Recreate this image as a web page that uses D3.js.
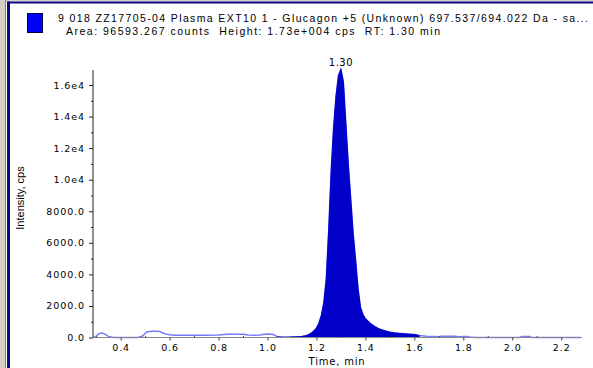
<!DOCTYPE html>
<html>
<head>
  <style>
    body { margin: 0; background: #fff; }
    svg { display: block; font-family: "DejaVu Sans", sans-serif; }
    .tick text { font-family: "DejaVu Sans", sans-serif; font-size: 9.5px; letter-spacing: 0.9px; fill: #000; }
  </style>
</head>
<body>
  <script src="https://d3js.org/d3.v7.min.js"></script>
  <script>
    // header text
    const titleLine = "9 018 ZZ17705-04 Plasma EXT10 1 - Glucagon +5 (Unknown) 697.537/694.022 Da - sa...";
    const infoLine = "Area: 96593.267 counts  Height: 1.73e+004 cps  RT: 1.30 min";
    const peakLabel = "1.30";
    const peakRT = 1.30;

    // axis ticks
    const xTicks = [0.4, 0.6, 0.8, 1.0, 1.2, 1.4, 1.6, 1.8, 2.0, 2.2];
    const xMinor = [0.3, 0.5, 0.7, 0.9, 1.1, 1.3, 1.5, 1.7, 1.9, 2.1];
    const yTicks = [0, 2000, 4000, 6000, 8000, 10000, 12000, 14000, 16000];
    const yTickLabels = ["0.0", "2000.0", "4000.0", "6000.0", "8000.0", "1.0e4", "1.2e4", "1.4e4", "1.6e4"];
    const yMinor = [1000, 3000, 5000, 7000, 9000, 11000, 13000, 15000];

    // chromatogram trace (time, min / intensity, cps)
    const traceTime = [0.29, 0.30, 0.31, 0.32, 0.33, 0.34, 0.35, 0.37, 0.40, 0.45, 0.47,
      0.49, 0.50, 0.51, 0.53, 0.55, 0.56, 0.57, 0.58, 0.59, 0.60, 0.62, 0.65, 0.70, 0.75,
      0.80, 0.82, 0.84, 0.86, 0.88, 0.90, 0.92, 0.95, 0.97, 0.98, 1.00, 1.02, 1.03, 1.04,
      1.06, 1.08, 1.10, 1.12, 1.14, 1.16, 1.17, 1.18, 1.19, 1.20, 1.21, 1.22, 1.23, 1.24,
      1.25, 1.26, 1.27, 1.28, 1.29, 1.30, 1.31, 1.32, 1.33, 1.34, 1.35, 1.36, 1.37, 1.38,
      1.39, 1.40, 1.41, 1.42, 1.43, 1.44, 1.45, 1.46, 1.47, 1.48, 1.50, 1.52, 1.54, 1.56,
      1.58, 1.60, 1.62, 1.65, 1.68, 1.70, 1.71, 1.77, 1.78, 1.80, 1.82, 1.83, 1.86, 1.95,
      2.03, 2.04, 2.07, 2.08, 2.15, 2.28];
    const traceCps = [0, 80, 230, 290, 260, 170, 70, 0, 0, 0, 0,
      90, 260, 360, 400, 400, 380, 310, 240, 200, 170, 150, 150, 150, 150,
      160, 190, 210, 210, 210, 200, 160, 150, 160, 190, 220, 200, 140, 40,
      20, 20, 30, 40, 60, 120, 200, 300, 420, 600, 900, 1400, 2200, 3700,
      6800, 10500, 13300, 15300, 16600, 17000, 16200, 13600, 11000, 8800, 6600, 4900, 3100, 1900,
      1450, 1200, 1050, 900, 780, 680, 590, 520, 470, 420, 340, 290, 260, 230,
      210, 190, 120, 80, 60, 50, 80, 80, 40, 60, 60, 10, 0, 0,
      0, 60, 60, 0, 0, 0];

    // integrated peak window
    const peakStart = 1.04;
    const peakEnd = 1.62;

    const w = 593;
    const h = 368;

    const trace = traceTime.map((t, i) => ({ t: t, v: traceCps[i] }));
    const peak = trace.filter((d) => d.t >= peakStart && d.t <= peakEnd);

    const xScale = d3.scaleLinear().domain([0.287, 2.285]).range([93, 582]);
    const yScale = d3.scaleLinear().domain([0, 16000]).range([337.5, 85]);

    const svg = d3.select("body").append("svg")
      .attr("width", w)
      .attr("height", h);

    // window frame
    svg.append("rect").attr("x", 0).attr("y", 0).attr("width", 5).attr("height", h).attr("fill", "#d4d0c8");
    svg.append("rect").attr("x", 0).attr("y", 0).attr("width", w).attr("height", 1.5).attr("fill", "#d4d0c8");
    svg.append("rect").attr("x", 5).attr("y", 0).attr("width", 1).attr("height", h).attr("fill", "#808080");
    svg.append("rect").attr("x", 7).attr("y", 1.5).attr("width", 3).attr("height", h).attr("fill", "#0a0a80");
    svg.append("rect").attr("x", 7).attr("y", 1.5).attr("width", w - 7).attr("height", 2).attr("fill", "#0a0a80");

    // legend
    svg.append("rect")
      .attr("x", 27.5).attr("y", 13.5).attr("width", 15).attr("height", 19)
      .attr("fill", "#0000ff").attr("stroke", "#000040").attr("stroke-width", 1);
    svg.append("text")
      .attr("x", 58).attr("y", 22)
      .attr("font-family", "Liberation Sans, Arial, sans-serif")
      .attr("font-size", "10.5px")
      .attr("textLength", 530).attr("lengthAdjust", "spacing")
      .text(titleLine);
    svg.append("text")
      .attr("x", 66).attr("y", 35)
      .attr("font-family", "Liberation Sans, Arial, sans-serif")
      .attr("font-size", "10.5px")
      .attr("textLength", 374).attr("lengthAdjust", "spacing")
      .attr("xml:space", "preserve")
      .text(infoLine);

    // baseline trace
    const line = d3.line()
      .x((d) => xScale(d.t))
      .y((d) => yScale(d.v));
    svg.append("path")
      .datum(trace)
      .attr("fill", "none")
      .attr("stroke", "#7a7aff")
      .attr("stroke-width", 1.5)
      .attr("d", line);

    // integrated peak fill
    const area = d3.area()
      .x((d) => xScale(d.t))
      .y0(yScale(0))
      .y1((d) => yScale(d.v));
    svg.append("path")
      .datum(peak)
      .attr("fill", "#0000c8")
      .attr("stroke", "#0000c8")
      .attr("stroke-width", 1)
      .attr("d", area);

    // peak label
    svg.append("text")
      .attr("x", xScale(peakRT)).attr("y", 66)
      .attr("text-anchor", "middle")
      .attr("font-size", "10px")
      .attr("letter-spacing", "0.5px")
      .text(peakLabel);

    // axes
    const xAxis = d3.axisBottom(xScale)
      .tickValues(xTicks)
      .tickSize(3)
      .tickPadding(4)
      .tickFormat(d3.format(".1f"));
    const gx = svg.append("g")
      .attr("transform", "translate(0," + yScale(0) + ")")
      .call(xAxis);
    gx.select(".domain").attr("stroke", "#8a8a8a").attr("d", "M" + xScale.range()[0] + ",0H" + xScale.range()[1]);
    gx.selectAll(".tick line").attr("stroke", "#444");

    const xMinorAxis = d3.axisTop(xScale).tickValues(xMinor).tickSize(1.5).tickFormat("");
    svg.append("g")
      .attr("transform", "translate(0," + yScale(0) + ")")
      .call(xMinorAxis)
      .call((g) => g.select(".domain").remove())
      .selectAll(".tick line").attr("stroke", "#444");

    const yAxis = d3.axisLeft(yScale)
      .tickValues(yTicks)
      .tickSize(4)
      .tickPadding(4)
      .tickFormat((d, i) => yTickLabels[i]);
    const gy = svg.append("g")
      .attr("transform", "translate(93,0)")
      .call(yAxis);
    gy.select(".domain").attr("stroke", "#222").attr("d", "M0," + yScale(0) + "V70");
    gy.selectAll(".tick line").attr("stroke", "#222");

    const yMinorAxis = d3.axisLeft(yScale).tickValues(yMinor).tickSize(2).tickFormat("");
    svg.append("g")
      .attr("transform", "translate(93,0)")
      .call(yMinorAxis)
      .call((g) => g.select(".domain").remove())
      .selectAll(".tick line").attr("stroke", "#222");

    // axis titles
    svg.append("text")
      .attr("x", 337).attr("y", 365)
      .attr("text-anchor", "middle")
      .attr("font-size", "10px")
      .attr("letter-spacing", "0.8px")
      .text("Time, min");
    svg.append("text")
      .attr("transform", "translate(24,198) rotate(-90)")
      .attr("text-anchor", "middle")
      .attr("font-family", "Liberation Sans Narrow, Liberation Sans, sans-serif")
      .attr("font-size", "11px")
      .text("Intensity, cps");
  </script>
</body>
</html>
